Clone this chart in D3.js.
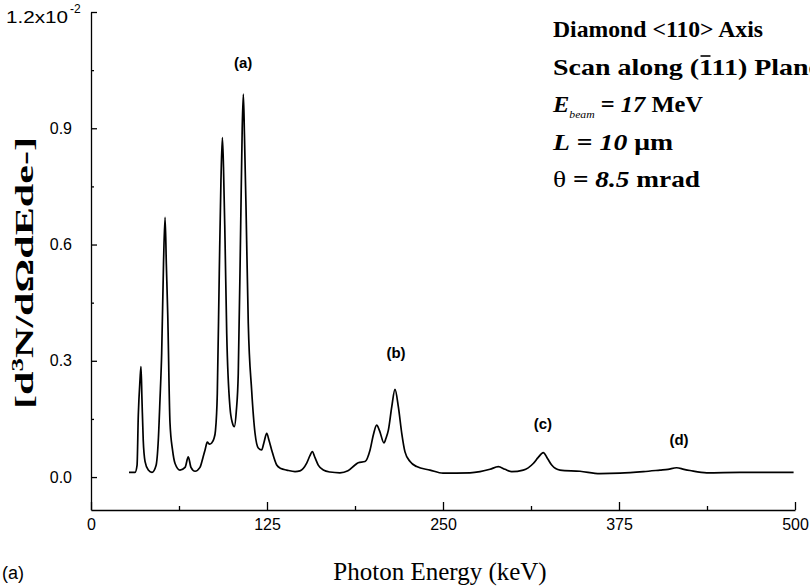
<!DOCTYPE html>
<html><head><meta charset="utf-8">
<script src="https://cdn.jsdelivr.net/npm/d3@7"></script>
<style>body{margin:0;background:#fff}</style>
</head><body><svg id="c" width="810" height="587"></svg>
<script>
// ---- data ----
const energy = [27,28.4,31.3,32.7,33.6,34.8,35.5,36.2,37.1,38.4,40.7,43.3,46.2,47.8,49.0,50.2,51.5,52.6,53.5,54.5,56.1,57.9,59.7,63.2,66.8,69.1,71.0,73.9,77.4,79.5,81.0,82.6,84.2,85.7,87.4,88.4,89.7,91.1,92.3,93.3,94.1,95.2,96.4,98.7,100.4,101.8,103.2,104.6,106.3,107.4,108.2,109.0,110.1,111.7,114.1,116.5,118.8,121.2,122.9,124.8,126.4,128.3,131.9,134.9,139.0,144.9,148.4,153.2,155.5,157.2,159.1,161.4,165.0,169.7,176.8,182.5,187.5,189.8,194.6,198.2,200.6,202.9,204.9,208.1,209.5,211.2,213.6,215.9,218.3,220.7,223.0,226.6,231.3,240.8,250.0,269.2,276.3,283.4,289.3,294.0,298.8,307.0,314.1,317.5,321.2,324.2,327.2,333.1,347.3,361.5,375.7,392.3,404.1,409.8,415.9,421.1,425.4,437.3,460.9,482.2,499];
const intensity = [0.012,0.012,0.012,0.03,0.16,0.25,0.285,0.2,0.095,0.04,0.018,0.012,0.03,0.095,0.2,0.32,0.55,0.67,0.55,0.42,0.14,0.07,0.035,0.018,0.025,0.052,0.025,0.015,0.025,0.05,0.07,0.09,0.085,0.088,0.1,0.12,0.215,0.525,0.765,0.876,0.8,0.61,0.37,0.18,0.14,0.13,0.17,0.268,0.645,0.9,0.988,0.88,0.696,0.397,0.224,0.113,0.075,0.07,0.09,0.113,0.095,0.07,0.031,0.022,0.018,0.014,0.016,0.036,0.055,0.066,0.05,0.031,0.018,0.013,0.011,0.016,0.031,0.037,0.04,0.07,0.11,0.134,0.12,0.088,0.1,0.121,0.181,0.226,0.181,0.113,0.065,0.04,0.027,0.018,0.01,0.011,0.014,0.02,0.027,0.02,0.014,0.018,0.035,0.05,0.063,0.048,0.031,0.018,0.015,0.009,0.01,0.014,0.018,0.02,0.024,0.02,0.017,0.011,0.012,0.012,0.012];
const xTicks = [0,125,250,375,500];
const xMinorTicks = [62.5,187.5,312.5,437.5];
const yTicks = [0,0.3,0.6,0.9,1.2];
const yTickLabels = ["0.0","0.3","0.6","0.9",""];
const yMinorTicks = [0.15,0.45,0.75,1.05];
const peakLabels = ["(a)","(b)","(c)","(d)"];
const peakLabelEnergy = [108,216.6,321,417.6];
const peakLabelValue = [1.056,0.306,0.124,0.082];

const svg = d3.select('#c');
const x = d3.scaleLinear().domain([0,500]).range([91,795]);
const y = d3.scaleLinear().domain([-0.085,1.2]).range([510,12]);
const SANS = 'Liberation Sans, Arial, sans-serif';
const NARROW = 'Liberation Sans Narrow, Arial Narrow, sans-serif';
const SERIF = 'Liberation Serif, Times New Roman, serif';

// y axis
const gy = svg.append('g').attr('transform','translate(91,0)')
  .call(d3.axisLeft(y).tickValues(yTicks).tickSizeInner(-6).tickSizeOuter(0).tickPadding(19)
    .tickFormat((d,i)=>yTickLabels[i]));
gy.selectAll('text').attr('font-family',SANS).attr('font-size',16).attr('fill','#000');
svg.append('g').attr('transform','translate(91,0)')
  .call(d3.axisLeft(y).tickValues(yMinorTicks).tickSizeInner(-3).tickSizeOuter(0).tickFormat(''))
  .select('.domain').remove();

// x axis
const gx = svg.append('g').attr('transform','translate(0,510)')
  .call(d3.axisBottom(x).tickValues(xTicks).tickSizeInner(-8).tickSizeOuter(0).tickPadding(9));
gx.selectAll('text').attr('font-family',NARROW).attr('font-size',16).attr('fill','#000');
svg.append('g').attr('transform','translate(0,510)')
  .call(d3.axisBottom(x).tickValues(xMinorTicks).tickSizeInner(-4).tickSizeOuter(0).tickFormat(''))
  .select('.domain').remove();
svg.selectAll('.domain, .tick line').attr('stroke','#000').attr('stroke-width',1.3);

// top label 1.2x10^-2
svg.append('text').attr('x',68).attr('y',y(1.2)+11)
  .attr('text-anchor','end').attr('font-family',SANS).attr('font-size',17)
  .attr('textLength',62).attr('lengthAdjust','spacingAndGlyphs').text('1.2x10');
svg.append('text').attr('x',70).attr('y',y(1.2)+1)
  .attr('font-family',SANS).attr('font-size',12).text('-2');

// curve
const pts = energy.map((e,i)=>[e,intensity[i]]);
svg.append('path').datum(pts)
  .attr('fill','none').attr('stroke','#000').attr('stroke-width',1.7).attr('stroke-linejoin','round')
  .attr('d', d3.line().x(d=>x(d[0])).y(d=>y(d[1])).curve(d3.curveMonotoneX));

// peak labels
svg.append('g').selectAll('text').data(peakLabels).join('text')
  .attr('x',(d,i)=>x(peakLabelEnergy[i])).attr('y',(d,i)=>y(peakLabelValue[i]))
  .attr('text-anchor','middle').attr('font-family',NARROW)
  .attr('font-weight','bold').attr('font-size',15).text(d=>d);

// axis titles
svg.append('text').attr('x',440).attr('y',580).attr('text-anchor','middle')
  .attr('font-family',SERIF).attr('font-size',25).text('Photon Energy (keV)');
const yl = svg.append('text').attr('transform','translate(33,273) rotate(-90)').attr('text-anchor','middle')
  .attr('font-family',SERIF).attr('font-weight','bold').attr('font-size',25)
  .attr('textLength',272).attr('lengthAdjust','spacingAndGlyphs');
yl.append('tspan').text('[d');
yl.append('tspan').attr('font-size',16).attr('dy',-10).text('3');
yl.append('tspan').attr('dy',10).text('N/dΩdEde-]');

svg.append('text').attr('x',2).attr('y',579).attr('font-family',SANS).attr('font-size',18).text('(a)');

// info block
const info = svg.append('g').attr('font-family',SERIF).attr('font-weight','bold').attr('font-size',23).attr('fill','#000');
info.append('text').attr('x',553).attr('y',37).attr('textLength',210).attr('lengthAdjust','spacingAndGlyphs').text('Diamond <110> Axis');
const l2 = info.append('text').attr('x',553).attr('y',75).attr('textLength',268).attr('lengthAdjust','spacingAndGlyphs').text('Scan along (111) Plane');
const node = l2.node();
const idx = 'Scan along ('.length;
const s = node.getStartPositionOfChar(idx), e = node.getEndPositionOfChar(idx);
info.append('line').attr('x1',s.x+1.5).attr('x2',e.x-1).attr('y1',56).attr('y2',56).attr('stroke','#000').attr('stroke-width',1.6);
const l3 = info.append('text').attr('x',553).attr('y',112).attr('textLength',150).attr('lengthAdjust','spacingAndGlyphs');
l3.append('tspan').attr('font-style','italic').text('E');
l3.append('tspan').attr('font-style','italic').attr('font-weight','normal').attr('font-size',11).attr('dy',6).text('beam');
l3.append('tspan').attr('dy',-6).text(' = ');
l3.append('tspan').attr('font-style','italic').text('17');
l3.append('tspan').text(' MeV');
const l4 = info.append('text').attr('x',553).attr('y',150).attr('textLength',120).attr('lengthAdjust','spacingAndGlyphs');
l4.append('tspan').attr('font-style','italic').text('L');
l4.append('tspan').text(' = ');
l4.append('tspan').attr('font-style','italic').text('10');
l4.append('tspan').text(' μm');
const l5 = info.append('text').attr('x',553).attr('y',187).attr('textLength',147).attr('lengthAdjust','spacingAndGlyphs');
l5.append('tspan').attr('font-weight','normal').text('θ');
l5.append('tspan').text(' = ');
l5.append('tspan').attr('font-style','italic').text('8.5');
l5.append('tspan').text(' mrad');
</script></body></html>
